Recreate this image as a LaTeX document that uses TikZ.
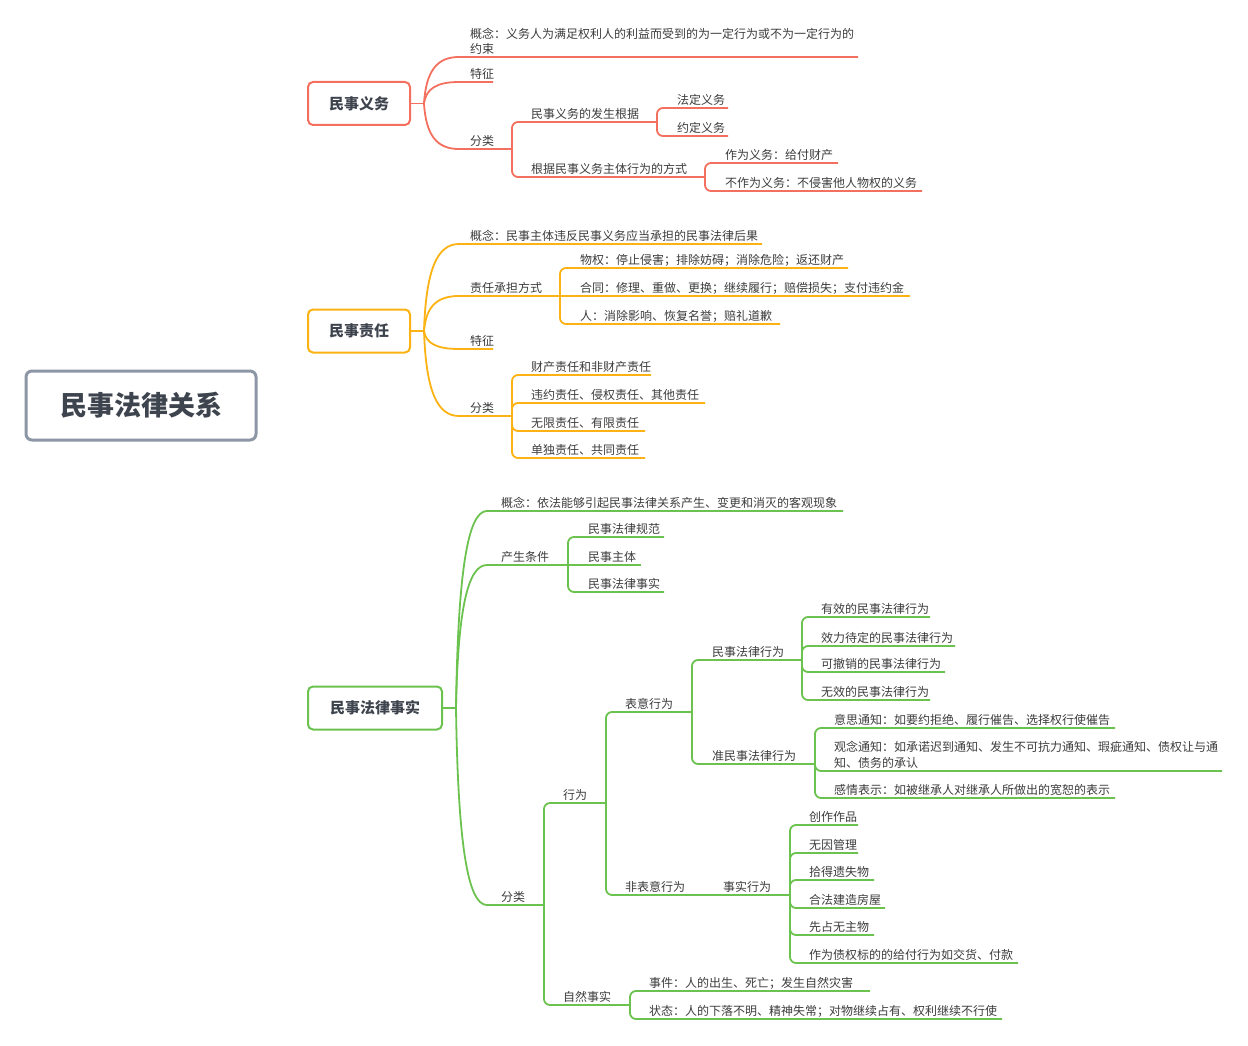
\documentclass[tikz,border=0pt]{standalone}
\usepackage{fontspec}
\setmainfont{Noto Sans CJK SC}
\definecolor{cred}{RGB}{244,112,94}
\definecolor{corange}{RGB}{252,178,18}
\definecolor{cgreen}{RGB}{108,194,78}
\definecolor{rootc}{RGB}{140,150,165}
\definecolor{txt}{RGB}{60,60,60}
\definecolor{maintxt}{RGB}{62,68,78}
\newcommand\mmtopic[5]{\node[lbl] (#1) at (#2,#3-3.5) {#5};\coordinate (#1-e) at (#4,#3);}
\begin{document}
\begin{tikzpicture}[x=1pt,y=-1pt,
  lbl/.style={anchor=base west,inner sep=0pt,font=\fontsize{12}{15}\selectfont,text=txt},
  mainbox/.style={draw,line width=2pt,rounded corners=5pt,fill=white,font=\fontsize{15}{18}\selectfont\bfseries,text=maintxt,minimum height=43pt,inner sep=0pt},
  conn/.style={line width=1.8pt,rounded corners=6pt}]
\useasboundingbox (0,0) rectangle (1248,1046);

% root
\node[draw=rootc,line width=3pt,rounded corners=6pt,minimum width=230pt,minimum height=69pt,inner sep=0pt,font=\fontsize{27}{32}\selectfont\bfseries,text=maintxt] (root) at (141,405.5) {民事法律关系};

% ===== section 1 =====
\node[mainbox,draw=cred,minimum width=102pt] (A) at (359,103.5) {民事义务};
\coordinate (hA) at (424,103.5);
\node[lbl] (a1) at (470,38.5) {\begin{tabular}[t]{@{}l@{}}概念：义务人为满足权利人的利益而受到的为一定行为或不为一定行为的\\约束\end{tabular}};
\coordinate (a1-s) at (465,57); \coordinate (a1-e) at (858,57);
\mmtopic{a2}{470}{82}{493}{特征}\coordinate (a2-s) at (465,82);
\mmtopic{a3}{470}{149}{512}{分类}\coordinate (a3-s) at (465,149);
\mmtopic{a31}{531}{122}{657}{民事义务的发生根据}
\mmtopic{a32}{531}{177}{705}{根据民事义务主体行为的方式}
\mmtopic{a311}{677}{108}{728}{法定义务}
\mmtopic{a312}{677}{136}{728}{约定义务}
\mmtopic{a321}{725}{163}{838}{作为义务：给付财产}
\mmtopic{a322}{725}{191}{922}{不作为义务：不侵害他人物权的义务}
\begin{scope}[conn,draw=cred]
\draw (A.east) -- (hA);
\draw (hA) .. controls +(2,-32.5) and +(-28,0) .. (a1-s) -- (a1-e);
\draw (hA) .. controls +(2,-15) and +(-28,0) .. (a2-s) -- (a2-e);
\draw (hA) .. controls +(2,32) and +(-28,0) .. (a3-s) -- (a3-e);
\draw (a3-e) |- (a31-e); \draw (a3-e) |- (a32-e);
\draw (a31-e) |- (a311-e); \draw (a31-e) |- (a312-e);
\draw (a32-e) |- (a321-e); \draw (a32-e) |- (a322-e);
\end{scope}

% ===== section 2 =====
\node[mainbox,draw=corange,minimum width=102pt] (B) at (359,331) {民事责任};
\coordinate (hB) at (424,331);
\mmtopic{b1}{470}{244}{762}{概念：民事主体违反民事义务应当承担的民事法律后果}\coordinate (b1-s) at (465,244);
\mmtopic{b2}{470}{296}{560}{责任承担方式}\coordinate (b2-s) at (465,296);
\mmtopic{b3}{470}{349}{493}{特征}\coordinate (b3-s) at (465,349);
\mmtopic{b4}{470}{416}{512}{分类}\coordinate (b4-s) at (465,416);
\mmtopic{b21}{580}{268}{848}{物权：停止侵害；排除妨碍；消除危险；返还财产}
\mmtopic{b22}{580}{296}{910}{合同：修理、重做、更换；继续履行；赔偿损失；支付违约金}
\mmtopic{b23}{580}{324}{780}{人：消除影响、恢复名誉；赔礼道歉}
\mmtopic{b41}{531}{375}{651}{财产责任和非财产责任}
\mmtopic{b42}{531}{403}{705}{违约责任、侵权责任、其他责任}
\mmtopic{b43}{531}{431}{645}{无限责任、有限责任}
\mmtopic{b44}{531}{458}{645}{单独责任、共同责任}
\begin{scope}[conn,draw=corange]
\draw (B.east) -- (hB);
\draw (hB) .. controls +(2,-61) and +(-28,0) .. (b1-s) -- (b1-e);
\draw (hB) .. controls +(2,-24.5) and +(-28,0) .. (b2-s) -- (b2-e);
\draw (hB) .. controls +(2,12.6) and +(-28,0) .. (b3-s) -- (b3-e);
\draw (hB) .. controls +(2,59.5) and +(-28,0) .. (b4-s) -- (b4-e);
\draw (b2-e) |- (b21-e); \draw (b2-e) -- (b22-e); \draw (b2-e) |- (b23-e);
\draw (b4-e) |- (b41-e); \draw (b4-e) |- (b42-e); \draw (b4-e) |- (b43-e); \draw (b4-e) |- (b44-e);
\end{scope}

% ===== section 3 =====
\node[mainbox,draw=cgreen,minimum width=134pt] (C) at (375,708) {民事法律事实};
\coordinate (hC) at (456,708);
\mmtopic{c1}{501}{511}{843}{概念：依法能够引起民事法律关系产生、变更和消灭的客观现象}\coordinate (c1-s) at (493,511);
\mmtopic{c2}{501}{565}{568}{产生条件}\coordinate (c2-s) at (493,565);
\mmtopic{c3}{501}{905}{544}{分类}\coordinate (c3-s) at (493,905);
\mmtopic{c21}{588}{537}{664}{民事法律规范}
\mmtopic{c22}{588}{565}{641}{民事主体}
\mmtopic{c23}{588}{592}{664}{民事法律事实}
\mmtopic{c31}{563}{803}{606}{行为}
\mmtopic{c32}{563}{1005}{630}{自然事实}
\mmtopic{c311}{625}{712}{692}{表意行为}
\mmtopic{c312}{625}{895}{705}{非表意行为}
\mmtopic{c3111}{712}{660}{802}{民事法律行为}
\mmtopic{c3112}{712}{764}{815}{准民事法律行为}
\mmtopic{d1}{821}{617}{930}{有效的民事法律行为}
\mmtopic{d2}{821}{646}{955}{效力待定的民事法律行为}
\mmtopic{d3}{821}{672}{945}{可撤销的民事法律行为}
\mmtopic{d4}{821}{700}{930}{无效的民事法律行为}
\mmtopic{e1}{834}{728}{1115}{意思通知：如要约拒绝、履行催告、选择权行使催告}
\node[lbl] (e2) at (834,751.5) {\begin{tabular}[t]{@{}l@{}}观念通知：如承诺迟到通知、发生不可抗力通知、瑕疵通知、债权让与通\\[1pt]知、债务的承认\end{tabular}};
\coordinate (e2-e) at (1222,771);
\mmtopic{e3}{834}{798}{1115}{感情表示：如被继承人对继承人所做出的宽恕的表示}
\mmtopic{c3121}{723}{895}{790}{事实行为}
\mmtopic{f1}{809}{825}{858}{创作作品}
\mmtopic{f2}{809}{853}{858}{无因管理}
\mmtopic{f3}{809}{880}{874}{拾得遗失物}
\mmtopic{f4}{809}{908}{885}{合法建造房屋}
\mmtopic{f5}{809}{935}{874}{先占无主物}
\mmtopic{f6}{809}{963}{1018}{作为债权标的的给付行为如交货、付款}
\mmtopic{c321}{649}{991}{870}{事件：人的出生、死亡；发生自然灾害}
\mmtopic{c322}{649}{1019}{1002}{状态：人的下落不明、精神失常；对物继续占有、权利继续不行使}
\begin{scope}[conn,draw=cgreen]
\draw (C.east) -- (hC);
\draw (hC) .. controls +(2,-138) and +(-25,0) .. (c1-s) -- (c1-e);
\draw (hC) .. controls +(2,-100) and +(-25,0) .. (c2-s) -- (c2-e);
\draw (hC) .. controls +(2,138) and +(-25,0) .. (c3-s) -- (c3-e);
\draw (c2-e) |- (c21-e); \draw (c2-e) -- (c22-e); \draw (c2-e) |- (c23-e);
\draw (c3-e) |- (c31-e); \draw (c3-e) |- (c32-e);
\draw (c31-e) |- (c311-e); \draw (c31-e) |- (c312-e);
\draw (c311-e) |- (c3111-e); \draw (c311-e) |- (c3112-e);
\draw (c3111-e) |- (d1-e); \draw (c3111-e) |- (d2-e); \draw (c3111-e) |- (d3-e); \draw (c3111-e) |- (d4-e);
\draw (c3112-e) |- (e1-e); \draw (c3112-e) |- (e2-e); \draw (c3112-e) |- (e3-e);
\draw (c312-e) -- (c3121-e);
\draw (c3121-e) |- (f1-e); \draw (c3121-e) |- (f2-e); \draw (c3121-e) |- (f3-e); \draw (c3121-e) |- (f4-e); \draw (c3121-e) |- (f5-e); \draw (c3121-e) |- (f6-e);
\draw (c32-e) |- (c321-e); \draw (c32-e) |- (c322-e);
\end{scope}
\end{tikzpicture}
\end{document}
